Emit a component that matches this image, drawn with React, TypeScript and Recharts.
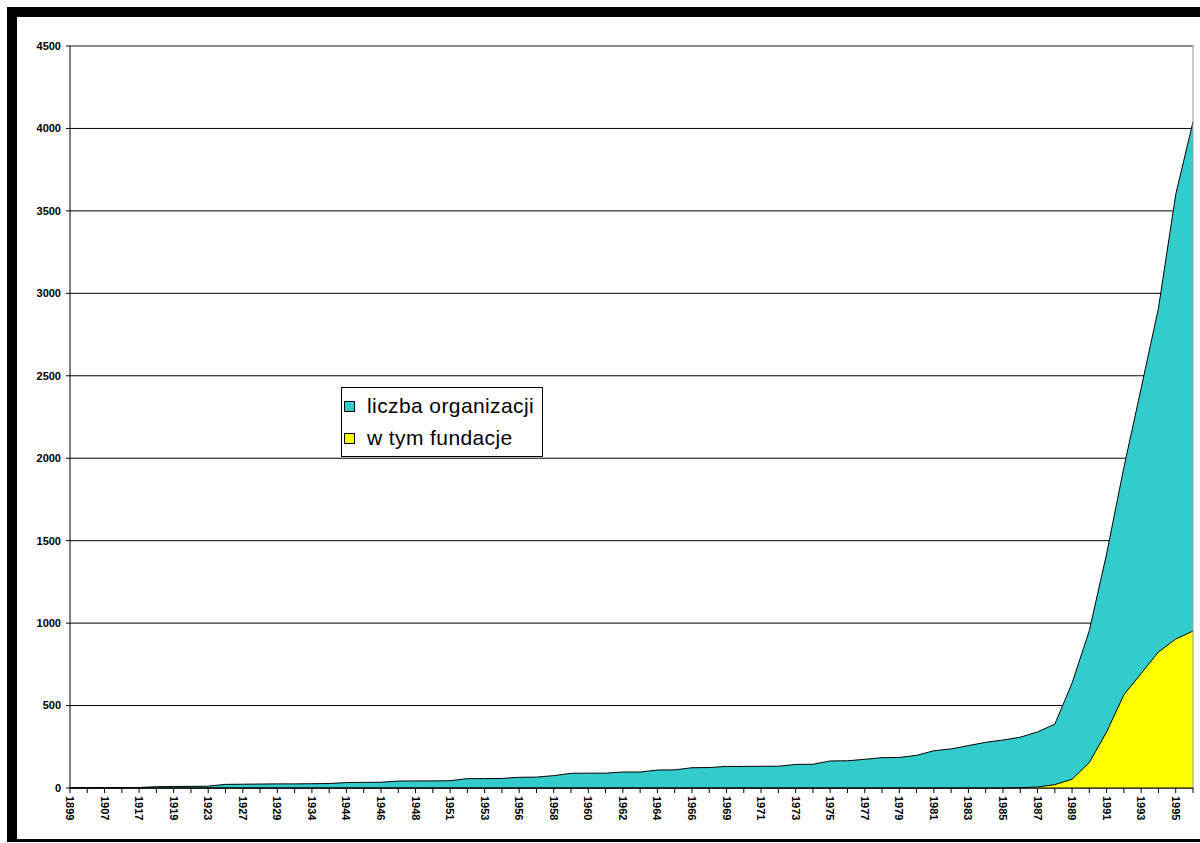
import React from "react";
import {
  AreaChart, Area, XAxis, YAxis, CartesianGrid, Legend, ReferenceLine,
} from "recharts";

// categories (years of registration)
const years = [
  "1899", "1905", "1907", "1912", "1917", "1918", "1919", "1920", "1923", "1925",
  "1927", "1928", "1929", "1932", "1934", "1937", "1944", "1945", "1946", "1947",
  "1948", "1950", "1951", "1952", "1953", "1955", "1956", "1957", "1958", "1959",
  "1960", "1961", "1962", "1963", "1964", "1965", "1966", "1968", "1969", "1970",
  "1971", "1972", "1973", "1974", "1975", "1976", "1977", "1978", "1979", "1980",
  "1981", "1982", "1983", "1984", "1985", "1986", "1987", "1988", "1989", "1990",
  "1991", "1992", "1993", "1994", "1995", "1996",
];

// liczba organizacji (cumulative)
const organizacje = [
  1, 1, 2, 2, 3, 8, 9, 10, 11, 22,
  23, 24, 25, 25, 26, 27, 33, 34, 35, 42,
  43, 43, 44, 57, 57, 58, 65, 66, 75, 89,
  90, 90, 97, 97, 109, 110, 123, 124, 131, 131,
  132, 132, 143, 144, 164, 165, 174, 184, 185, 198,
  226, 237, 257, 277, 291, 308, 340, 387, 636, 955,
  1420, 1945, 2425, 2910, 3600, 4040,
];

// w tym fundacje
const fundacje = [
  0, 0, 0, 0, 0, 0, 0, 0, 0, 0,
  0, 0, 0, 0, 0, 0, 0, 0, 0, 0,
  0, 0, 0, 0, 0, 0, 0, 0, 0, 0,
  0, 0, 0, 0, 0, 0, 0, 0, 0, 0,
  0, 0, 0, 0, 0, 0, 0, 0, 0, 0,
  0, 0, 0, 0, 0, 2, 6, 20, 53, 155,
  340, 565, 695, 825, 903, 952,
];

const yTicks = [0, 500, 1000, 1500, 2000, 2500, 3000, 3500, 4000, 4500];

const TEAL = "#33CCCC";
const YELLOW = "#FFFF00";
const FONT = "'Liberation Sans', Arial, sans-serif";

const data = years.map((year, i) => ({
  year,
  org: organizacje[i],
  fund: fundacje[i],
}));

const legendItems = [
  { label: "liczba organizacji", color: TEAL },
  { label: "w tym fundacje", color: YELLOW },
];

// only every other year gets a label, like the original
function XTick(props: any) {
  const { x, y, payload, index } = props;
  if (index % 2 !== 0) return <g />;
  return (
    <text
      transform={`translate(${x},${y}) rotate(90)`}
      textAnchor="start"
      dominantBaseline="central"
      fontSize={11}
      fontWeight="bold"
      fontFamily={FONT}
      fill="#000"
    >
      {payload.value}
    </text>
  );
}

function LegendBox() {
  return (
    <div
      style={{
        width: 200,
        height: 68,
        border: "1px solid #000",
        background: "#fff",
        fontFamily: FONT,
        fontSize: 21,
        letterSpacing: 0.4,
        color: "#000",
        boxSizing: "content-box",
      }}
    >
      {legendItems.map((it, i) => (
        <div
          key={it.label}
          style={{ display: "flex", alignItems: "center", height: 32, marginTop: i === 0 ? 2 : 0 }}
        >
          <span
            style={{
              display: "inline-block",
              width: 9,
              height: 9,
              border: "1px solid #000",
              background: it.color,
              marginLeft: 2,
              marginRight: 12,
            }}
          />
          <span>{it.label}</span>
        </div>
      ))}
    </div>
  );
}

export default function App() {
  return (
    <div style={{ position: "relative", width: 1200, height: 843, overflow: "hidden", background: "#fff" }}>
      <style>{"body{margin:0}"}</style>
      <div
        style={{
          position: "absolute",
          left: 7,
          top: 7,
          width: 1220,
          height: 822,
          borderLeft: "10px solid #000",
          borderTop: "10px solid #000",
          borderBottom: "3px solid #000",
        }}
      />
      <div style={{ position: "absolute", left: 0, top: 0 }}>
        <AreaChart
          width={1200}
          height={843}
          data={data}
          margin={{ top: 46, right: 7, bottom: 5, left: 10 }}
        >
          <CartesianGrid vertical={false} stroke="#000" strokeWidth={1} />
          <XAxis
            dataKey="year"
            interval={0}
            height={50}
            tick={<XTick />}
            tickSize={5}
            tickMargin={3}
            axisLine={{ stroke: "#000" }}
            tickLine={{ stroke: "#000" }}
          />
          <YAxis
            type="number"
            domain={[0, 4500]}
            ticks={yTicks}
            width={60}
            tickSize={4}
            tickMargin={5}
            axisLine={{ stroke: "#000" }}
            tickLine={{ stroke: "#000" }}
            tick={{ fill: "#000", fontSize: 11, fontWeight: "bold", fontFamily: FONT }}
          />
          <ReferenceLine y={4500} stroke="#999" />
          <ReferenceLine x="1996" stroke="#999" />
          <Area
            type="linear"
            dataKey="org"
            stroke="#000"
            strokeWidth={1}
            fill={TEAL}
            fillOpacity={1}
            dot={false}
            activeDot={false}
            isAnimationActive={false}
          />
          <Area
            type="linear"
            dataKey="fund"
            stroke="#000"
            strokeWidth={1}
            fill={YELLOW}
            fillOpacity={1}
            dot={false}
            activeDot={false}
            isAnimationActive={false}
          />
          <Legend
            layout="horizontal"
            verticalAlign="middle"
            align="center"
            content={() => <LegendBox />}
            wrapperStyle={{ left: 341, top: 387, width: 202, height: 70 }}
          />
        </AreaChart>
      </div>
    </div>
  );
}
